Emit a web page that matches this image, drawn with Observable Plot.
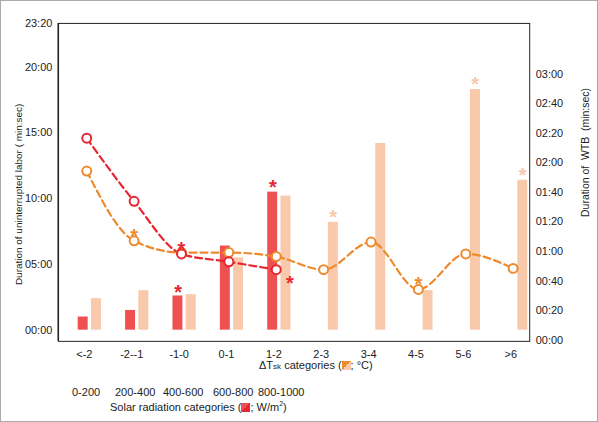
<!DOCTYPE html><html><head>
<script src="https://cdn.jsdelivr.net/npm/d3@7"></script>
<script src="https://cdn.jsdelivr.net/npm/@observablehq/plot@0.6"></script>
<style>body{margin:0;font-family:"Liberation Sans",Arial,sans-serif}
#wrap{position:relative;width:598px;height:422px;box-sizing:border-box;border:1px solid #aaa;overflow:hidden}
.t{position:absolute;font-size:11px;color:#222;white-space:nowrap}
.sw{display:inline-block;width:9px;height:9px;vertical-align:-1px}
</style></head><body><div id="wrap"></div>
<script>
const categories=["<-2","-2--1","-1-0","0-1","1-2","2-3","3-4","4-5","5-6",">6"];
const solarBars=[1.0,1.5,2.6,6.4,10.5];
const tskBars=[2.4,3.0,2.7,5.5,10.2,8.2,14.2,3.0,18.3,11.4];
const solarLine=[14.6,9.8,5.8,5.2,4.6];
const tskLine=[12.1,6.8,5.9,5.9,5.6,4.6,6.7,3.1,5.8,4.7];
const leftTicks=[0,5,10,15,20,23.333];
const rightTicksSec=[0,20,40,60,80,100,120,140,160,180];
const solarLabels=["0-200","200-400","400-600","600-800","800-1000"];
const red="#e8262f",redBar="#ef5052",orange="#ee8a2e",light="#f8c9aa";
const fmt=m=>{const s=Math.round(m*60);return String(Math.floor(s/60)).padStart(2,"0")+":"+String(s%60).padStart(2,"0")};
const sec2left=t=>(t*89/60-10)/13.2;
const sb=solarBars.map((v,i)=>({i,v})), tb=tskBars.map((v,i)=>({i,v}));
const sl=solarLine.map((v,i)=>({i,v})), tl=tskLine.map((v,i)=>({i,v}));
const stars=[
 {i:2.05,v:6.6,c:red},{i:4.34,v:4.0,c:red},{i:1.98,v:3.3,c:red},{i:3.98,v:11.3,c:red},
 {i:1.05,v:7.6,c:orange},{i:7.05,v:3.9,c:orange},
 {i:5.25,v:9.0,c:light},{i:8.25,v:19.1,c:light},{i:9.25,v:12.2,c:light}];
const plot=Plot.plot({width:598,height:360,marginLeft:57,marginRight:68,marginTop:22,marginBottom:19,
 style:{fontFamily:"Liberation Sans, Arial",fontSize:"11px",color:"#222"},
 x:{domain:[-0.55,9.4],ticks:d3.range(10),tickFormat:i=>categories[i],tickSize:0,label:null},
 y:{domain:[-0.85,23.333],label:null,axis:null},
 marks:[
  Plot.frame({stroke:"#222"}),
  Plot.axisY(leftTicks,{anchor:"left",tickFormat:fmt,tickSize:0,tickPadding:6}),
  Plot.ruleX([-0.55],{stroke:"#222",strokeWidth:1.5}),
  Plot.axisY(rightTicksSec.map(sec2left),{anchor:"right",tickFormat:(d,k)=>fmt(rightTicksSec[k]/60),tickSize:0,tickPadding:6}),
  Plot.text(["Duration of uninterrupted labor ( min:sec)"],{frameAnchor:"left",textAnchor:"middle",dx:-40,dy:12,rotate:-90,fontSize:10}),
  Plot.text(["Duration of  WTB  (min:sec)"],{frameAnchor:"right",textAnchor:"middle",dx:56,dy:-30,rotate:-90,fontSize:10.5}),
  Plot.rectY(sb,{x1:d=>d.i-0.13,x2:d=>d.i+0.08,y1:0,y2:"v",fill:redBar}),
  Plot.rectY(tb,{x1:d=>d.i+0.15,x2:d=>d.i+0.36,y1:0,y2:"v",fill:light}),
  Plot.line(tl,{x:d=>d.i+0.05,y:"v",stroke:orange,strokeWidth:2.2,strokeDasharray:"7,4",curve:"monotone-x"}),
  Plot.line(sl,{x:d=>d.i+0.05,y:"v",stroke:red,strokeWidth:2.2,strokeDasharray:"7,4",curve:"monotone-x"}),
  Plot.dot(tl,{x:d=>d.i+0.05,y:"v",r:4.5,stroke:orange,strokeWidth:2,fill:"white"}),
  Plot.dot(sl,{x:d=>d.i+0.05,y:"v",r:4.5,stroke:red,strokeWidth:2,fill:"white"}),
  Plot.text(stars,{x:"i",y:"v",text:()=>"*",fill:d=>d.c,fontSize:20,fontWeight:"bold",dy:6})
 ]});
const w=document.getElementById("wrap");
w.appendChild(plot);
const add=(html,x,y)=>{const d=document.createElement("div");d.className="t";d.innerHTML=html;d.style.left=x+"px";d.style.top=y+"px";w.appendChild(d);};
add('ΔT<span style="font-size:8px">sk</span> categories (<span class="sw" style="background:linear-gradient(135deg,#ee8a2e 50%,#f8c9aa 50%)"></span>; °C)',258,358);
const xs=[71,114,162,212,257];
solarLabels.forEach((s,k)=>add(s,xs[k],385));
add('Solar radiation categories (<span class="sw" style="background:linear-gradient(135deg,#ef5052 50%,#e8262f 50%)"></span>; W/m<sup style="font-size:7px">2</sup>)',109,399);
</script></body></html>
